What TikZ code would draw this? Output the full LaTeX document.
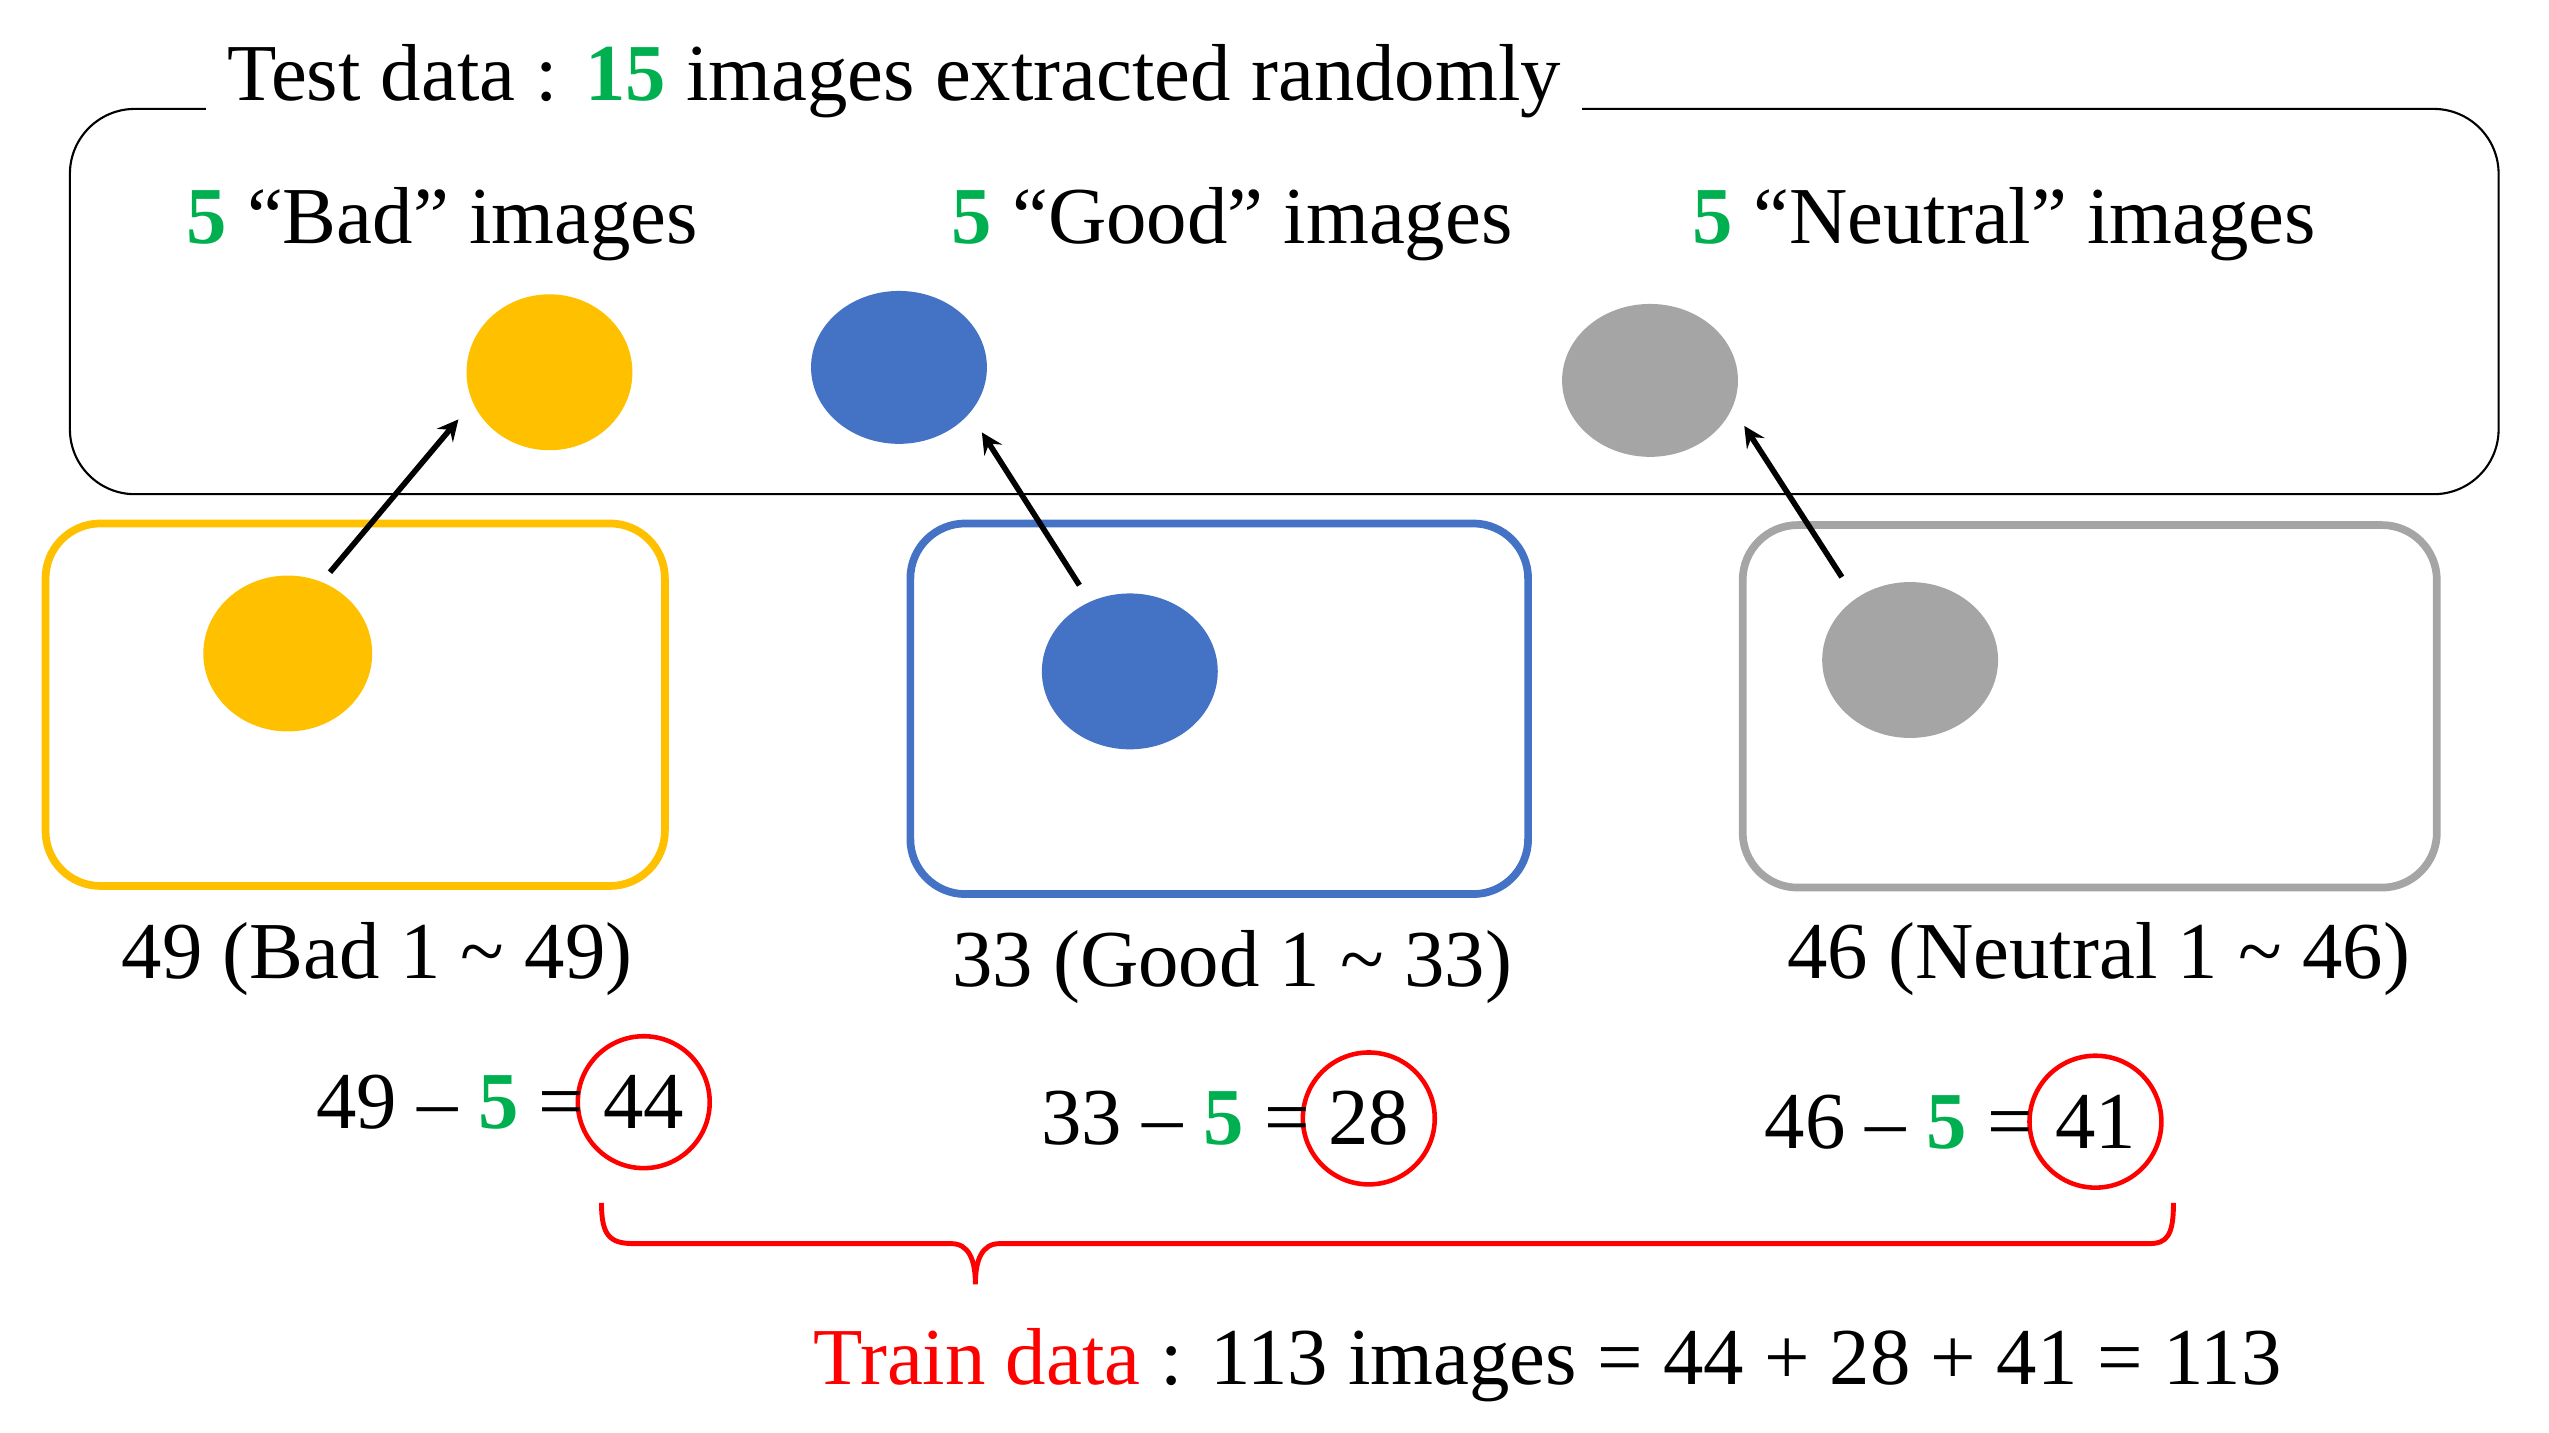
\documentclass[tikz,border=0pt]{standalone}
\usepackage{fontspec}
\usetikzlibrary{shapes.geometric}
\setmainfont{Liberation Serif}
\begin{document}
\definecolor{cy}{HTML}{FFC000}
\definecolor{cb}{HTML}{4472C4}
\definecolor{cg}{HTML}{A5A5A5}
\definecolor{gr}{HTML}{00B050}
\definecolor{rd}{HTML}{FF0000}
\begin{tikzpicture}[x=0.01626cm,y=-0.01626cm,
  big/.style={font=\fontsize{23}{26}\selectfont,inner sep=0pt},
  box/.style={line width=2.2pt,rounded corners=0.55cm},
  dot/.style={ellipse,inner sep=0pt},
  arr/.style={->,line width=1.6pt,>=stealth},
  ring/.style={circle,draw=rd,line width=1.3pt,minimum size=1.32cm,inner sep=0pt,font=\fontsize{23}{26}\selectfont}]
\useasboundingbox (0,0) rectangle (1568,881);
\draw[rounded corners=0.65cm,line width=0.6pt] (43,67) rectangle (1537,304);
\node[big,fill=white,inner xsep=6pt,inner ysep=4pt] (title) at (550,50) {Test data : \textbf{\color{gr}15} images extracted randomly};
\node[big] (lb) at (272,138) {\textbf{\color{gr}5} “Bad” images};
\node[big] (lg) at (758,138) {\textbf{\color{gr}5} “Good” images};
\node[big] (ln) at (1233,138) {\textbf{\color{gr}5} “Neutral” images};
\node[dot,fill=cy,minimum width=1.66cm,minimum height=1.56cm] (ty) at (338,229) {};
\node[dot,fill=cb,minimum width=1.76cm,minimum height=1.53cm] (tb) at (553,226) {};
\node[dot,fill=cg,minimum width=1.76cm,minimum height=1.53cm] (tg) at (1015,234) {};
\draw[box,draw=cy] (28,322) rectangle (409,545);
\draw[box,draw=cb] (560,322) rectangle (940,550);
\draw[box,draw=cg] (1072,323) rectangle (1499,546);
\node[dot,fill=cy,minimum width=1.69cm,minimum height=1.56cm] (by) at (177,402) {};
\node[dot,fill=cb,minimum width=1.76cm,minimum height=1.56cm] (bb) at (695,413) {};
\node[dot,fill=cg,minimum width=1.76cm,minimum height=1.56cm] (bg) at (1175,406) {};
\coordinate (a1) at (203,352); \coordinate (a2) at (282,258);
\coordinate (b1) at (664,360); \coordinate (b2) at (604,266);
\coordinate (c1) at (1133,355); \coordinate (c2) at (1073,262);
\draw[arr] (a1) -- (a2);
\draw[arr] (b1) -- (b2);
\draw[arr] (c1) -- (c2);
\node[big] (capy) at (232,590) {49 (Bad 1 \char`~{} 49)};
\node[big] (capb) at (758,595) {33 (Good 1 \char`~{} 33)};
\node[big] (capg) at (1291,590) {46 (Neutral 1 \char`~{} 46)};
\node[ring] (r1) at (396,678) {44};
\node[big,anchor=east] (e1) at (360,678) {49 – \textbf{\color{gr}5} =};
\node[ring] (r2) at (842,688) {28};
\node[big,anchor=east] (e2) at (806,688) {33 – \textbf{\color{gr}5} =};
\node[ring] (r3) at (1289,690) {41};
\node[big,anchor=east] (e3) at (1251,690) {46 – \textbf{\color{gr}5} =};
\draw[rd,line width=1.4pt] (370,740) .. controls (370,760) and (375,765) .. (390,765) -- (585,765)
  .. controls (596,765) and (600,775) .. (600,790) .. controls (600,775) and (604,765) .. (615,765)
  -- (1322,765) .. controls (1333,765) and (1337,760) .. (1337,740);
\node[big] (train) at (952,840) {{\color{rd}Train data} : 113 images = 44 + 28 + 41 = 113};
\end{tikzpicture}
\end{document}
